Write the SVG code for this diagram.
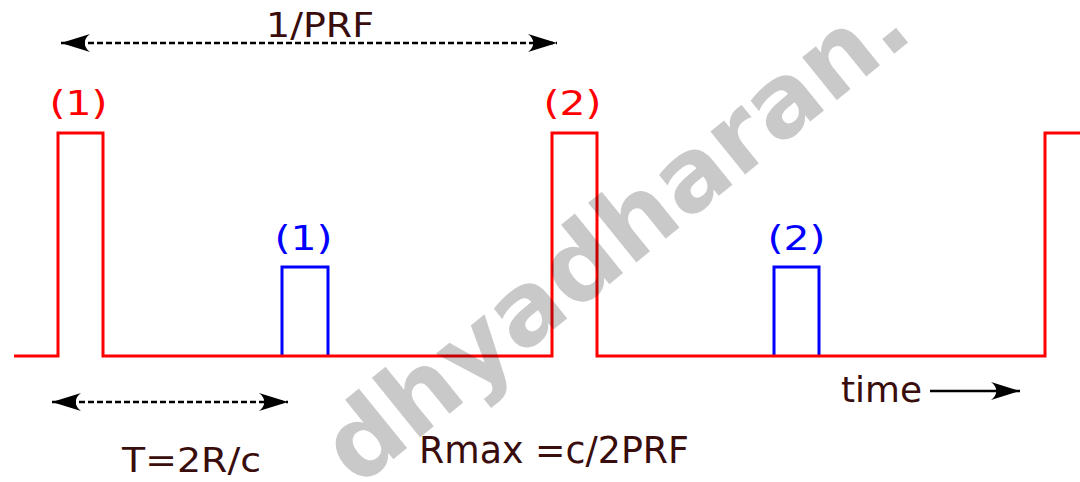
<svg xmlns="http://www.w3.org/2000/svg" width="1080" height="482" viewBox="0 0 1080 482">
<style>
.red{fill:none;stroke:#ff0000;stroke-width:3}
.blue{fill:none;stroke:#0000ff;stroke-width:3}
.dash{fill:none;stroke:#000;stroke-width:2.6;stroke-dasharray:6,3}
.solid{fill:none;stroke:#000;stroke-width:2.6}
.lab{font-family:"DejaVu Sans","Liberation Sans",sans-serif;fill:#3a0d0d}
.rl{font-family:"DejaVu Sans","Liberation Sans",sans-serif;fill:#ff0000;font-size:34px}
.bl{font-family:"DejaVu Sans","Liberation Sans",sans-serif;fill:#0000ff;font-size:34px}
.wm{font-family:"DejaVu Sans","Liberation Sans",sans-serif;font-weight:bold;font-size:101px;fill:#000;fill-opacity:0.21}
</style>
<defs>
<marker id="ah" viewBox="-30 -10 32 20" refX="0" refY="0" markerWidth="32" markerHeight="20" markerUnits="userSpaceOnUse" orient="auto-start-reverse">
<path d="M0,0 L-29,-9 C-22,-4 -22,4 -29,9 Z" fill="#000"/>
</marker>
</defs>
<rect width="1080" height="482" fill="#fff"/>
<g id="echo-pulses">
<path class="blue" d="M282,356 V267 H328 V356"/>
<path class="blue" d="M774,356 V267 H819 V356"/>
</g>
<g id="transmit-pulses">
<path class="red" d="M14,356 H58 V133 H103 V356 H552 V133 H597 V356 H1045 V133 H1082"/>
</g>
<g id="pulse-labels">
<text class="rl" x="49.5" y="115" textLength="58" lengthAdjust="spacingAndGlyphs">(1)</text>
<text class="rl" x="543.5" y="115" textLength="58" lengthAdjust="spacingAndGlyphs">(2)</text>
<text class="bl" x="274.5" y="250" textLength="58" lengthAdjust="spacingAndGlyphs">(1)</text>
<text class="bl" x="767.5" y="250" textLength="58" lengthAdjust="spacingAndGlyphs">(2)</text>
</g>
<g id="connectors">
<line class="dash" x1="61" y1="43" x2="557" y2="43" marker-start="url(#ah)" marker-end="url(#ah)"/>
<line class="dash" x1="52" y1="402" x2="288" y2="402" marker-start="url(#ah)" marker-end="url(#ah)"/>
<line class="solid" x1="930" y1="391" x2="1020" y2="391" marker-end="url(#ah)"/>
</g>
<g id="texts">
<text class="lab" x="266" y="37" font-size="33" textLength="108" lengthAdjust="spacingAndGlyphs">1/PRF</text>
<text class="lab" x="122" y="472" font-size="33" textLength="139" lengthAdjust="spacingAndGlyphs">T=2R/c</text>
<text class="lab" x="419" y="463" font-size="37" textLength="270" lengthAdjust="spacingAndGlyphs">Rmax =c/2PRF</text>
<text class="lab" x="841" y="402" font-size="35" textLength="81" lengthAdjust="spacingAndGlyphs">time</text>
</g>
<g id="watermark">
<text class="wm" transform="translate(916,36) rotate(-39)" text-anchor="end">dhyadharan.</text>
</g>
</svg>
